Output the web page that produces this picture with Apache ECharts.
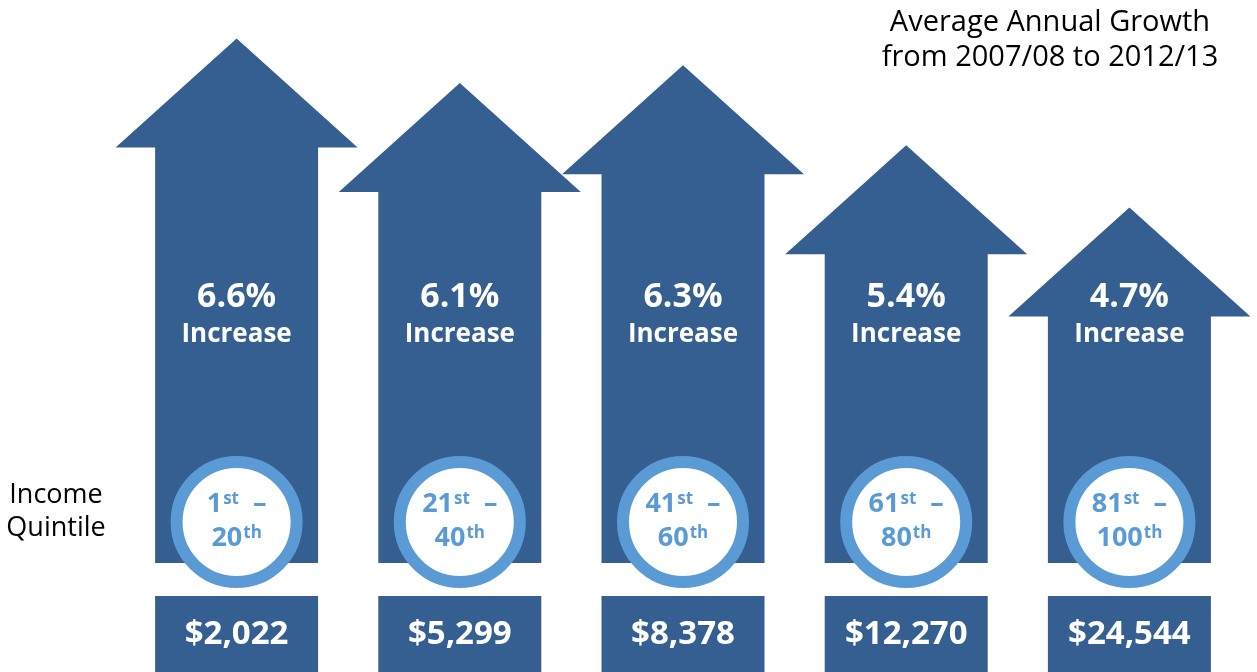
<!DOCTYPE html>
<html>
<head>
<meta charset="utf-8">
<script src="https://cdn.jsdelivr.net/npm/echarts@6/dist/echarts.min.js"></script>
<style>
  html, body { margin: 0; padding: 0; background: #fff; }
  #growth { width: 1257px; height: 672px; }
</style>
</head>
<body>
<div id="growth"></div>
<script type="text/javascript">
// quintile ranges (start / end percentile)
var quintileFrom = ['1', '21', '41', '61', '81'];
var quintileFromSuffix = ['st', 'st', 'st', 'st', 'st'];
var quintileTo = ['20', '40', '60', '80', '100'];
// average annual growth, percent
var growth = [6.6, 6.1, 6.3, 5.4, 4.7];
// income amount per quintile, dollars
var income = [2022, 5299, 8378, 12270, 24544];

var yMin = 0.7, yMax = 7;
var darkBlue = '#365f91';
var lightBlue = '#5b9bd5';
var font = '"Open Sans", "Noto Sans", sans-serif';

function fmtMoney(v) {
  return '$' + v.toString().replace(/\B(?=(\d{3})+(?!\d))/g, ',');
}

function renderArrow(params, api) {
  var i = api.value(0);
  var tip = api.coord([i, api.value(1)]);
  var base = api.coord([i, yMin]);
  var x = tip[0], headH = 109, headW = 121, shaftW = 81.5;
  var neck = tip[1] + headH;
  return {
    type: 'group',
    children: [
      {
        type: 'polygon',
        shape: {
          points: [[x, tip[1]], [x + headW, neck], [x + shaftW, neck], [x + shaftW, base[1]],
            [x - shaftW, base[1]], [x - shaftW, neck], [x - headW, neck]]
        },
        style: { fill: darkBlue }
      },
      {
        type: 'text',
        style: {
          text: growth[i] + '%', x: x, y: 297, align: 'center', verticalAlign: 'middle',
          fill: '#fff', font: 'bold 34px ' + font
        }
      },
      {
        type: 'text',
        style: {
          text: 'Increase', x: x, y: 335, align: 'center', verticalAlign: 'middle',
          fill: '#fff', font: 'bold 26px ' + font
        }
      }
    ]
  };
}

function renderQuintile(params, api) {
  var i = api.value(0);
  var p = api.coord([i, yMin]);
  var cy = p[1] - 41;
  return {
    type: 'group',
    children: [
      {
        type: 'circle',
        shape: { cx: p[0], cy: cy, r: 60 },
        style: { fill: '#fff', stroke: lightBlue, lineWidth: 12 }
      },
      {
        type: 'text',
        style: {
          text: '{n|' + quintileFrom[i] + '}{s|' + quintileFromSuffix[i] + '}{n|  –}\n{n|' + quintileTo[i] + '}{s|th}',
          x: p[0], y: cy - 1, align: 'center', verticalAlign: 'middle',
          rich: {
            n: { fontSize: 27, fontWeight: 'bold', fontFamily: font, fill: lightBlue, lineHeight: 34 },
            s: { fontSize: 17, fontWeight: 'bold', fontFamily: font, fill: lightBlue, lineHeight: 17, padding: [0, 0, 9, 1] }
          }
        }
      }
    ]
  };
}

function renderIncome(params, api) {
  var i = api.value(0);
  var p = api.coord([i, yMin]);
  var top = p[1] + 33;
  return {
    type: 'group',
    children: [
      {
        type: 'rect',
        shape: { x: p[0] - 81.5, y: top, width: 163, height: api.getHeight() - top },
        style: { fill: darkBlue }
      },
      {
        type: 'text',
        style: {
          text: fmtMoney(income[i]), x: p[0], y: 635, align: 'center', verticalAlign: 'middle',
          fill: '#fff', font: 'bold 33px ' + font
        }
      }
    ]
  };
}

var chart = echarts.init(document.getElementById('growth'));
chart.setOption({
  animation: false,
  backgroundColor: '#fff',
  grid: { left: 125, right: 16, top: 3, bottom: 109 },
  xAxis: { type: 'category', data: quintileTo, show: false },
  yAxis: { type: 'value', min: yMin, max: yMax, show: false },
  graphic: [
    {
      type: 'text',
      style: {
        text: 'Average Annual Growth\nfrom 2007/08 to 2012/13',
        x: 1050, y: 40, align: 'center', verticalAlign: 'middle',
        font: '29px ' + font, lineHeight: 35, fill: '#000'
      }
    },
    {
      type: 'text',
      style: {
        text: 'Income\nQuintile',
        x: 56, y: 512, align: 'center', verticalAlign: 'middle',
        font: '27px ' + font, lineHeight: 33, fill: '#000'
      }
    }
  ],
  series: [
    { name: 'growth', type: 'custom', renderItem: renderArrow, data: growth.map(function (v, i) { return [i, v]; }) },
    { name: 'quintile', type: 'custom', renderItem: renderQuintile, data: growth.map(function (v, i) { return [i, v]; }) },
    { name: 'income', type: 'custom', renderItem: renderIncome, data: income.map(function (v, i) { return [i, v]; }) }
  ]
});
</script>
</body>
</html>
